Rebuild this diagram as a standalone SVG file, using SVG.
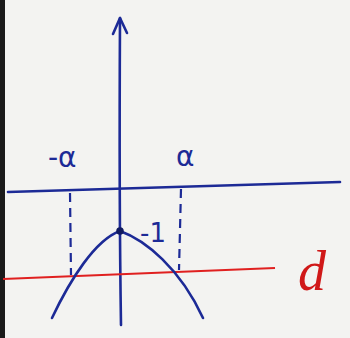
<svg xmlns="http://www.w3.org/2000/svg" width="350" height="338" viewBox="0 0 350 338">
<style>
.ink{fill:none;stroke:#1c2a96;stroke-width:2.6;stroke-linecap:round;stroke-linejoin:round}
.dash{fill:none;stroke:#1c2a96;stroke-width:2.2;stroke-dasharray:9 6}
.lbl{font-family:"DejaVu Sans",sans-serif;fill:#1c2a96}
</style>
<rect width="350" height="338" fill="#f3f3f1"/>
<rect x="0" y="0" width="5" height="338" fill="#1a1a1a"/>
<g id="y-axis">
<path class="ink" d="M121,325 Q119,200 120,18"/>
<path class="ink" d="M113,34 L120,18 L127,33"/>
</g>
<g id="x-axis">
<path class="ink" d="M8,192 L340,182"/>
</g>
<g id="guides">
<line class="dash" x1="70" y1="193" x2="71" y2="275"/>
<line class="dash" x1="181" y1="189" x2="179" y2="270"/>
</g>
<g id="line-d">
<path d="M3,279 L275,268" fill="none" stroke="#e02020" stroke-width="2.2"/>
<text x="298" y="290" font-family="Liberation Serif,serif" font-style="italic" font-size="56" fill="#d01818">d</text>
</g>
<g id="parabola">
<path class="ink" d="M52,318 C70,280 95,240 120,231 C145,240 180,268 203,318"/>
<circle cx="120" cy="231" r="3.8" fill="#101a60"/>
</g>
<g id="labels">
<text class="lbl" x="48" y="167" font-size="28">-α</text>
<text class="lbl" x="176" y="166" font-size="28">α</text>
<text class="lbl" x="140" y="242" font-size="26">-1</text>
</g>
</svg>
